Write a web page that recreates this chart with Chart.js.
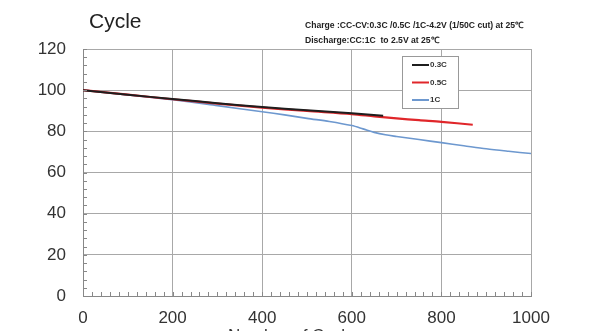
<!DOCTYPE html>
<html>
<head>
<meta charset="utf-8">
<script src="https://cdn.jsdelivr.net/npm/chart.js@4"></script>
<style>
  html, body { margin: 0; padding: 0; background: #fff; }
  #wrap { position: relative; width: 600px; height: 331px; overflow: hidden; }
  #title { position: absolute; left: 89px; top: 9px; font: 21px "Liberation Sans", Arial, sans-serif; color: #222; }
  #cond { position: absolute; left: 305px; top: 18px; font: bold 8.6px "Liberation Sans", Arial, sans-serif; color: #222; line-height: 15px; white-space: nowrap; }
  #xTitle { position: absolute; left: 228px; top: 326px; font: 17px "Liberation Sans", Arial, sans-serif; color: #333; white-space: nowrap; }
</style>
</head>
<body>
<div id="wrap">
  <canvas id="cycleChart" width="600" height="331"></canvas>
  <div id="title">Cycle</div>
  <div id="cond">Charge :CC-CV:0.3C /0.5C /1C-4.2V (1/50C cut) at 25℃<br>Discharge:CC:1C&nbsp; to 2.5V at 25℃</div>
  <div id="xTitle">Number of Cycles</div>
</div>
<script>
// capacity retention (%) vs. cycle count
const cycles03 = [0, 100, 200, 300, 400, 500, 600, 670];
const cap03 = [100, 97.8, 95.7, 93.7, 91.8, 90.2, 88.8, 87.6];

const cycles05 = [0, 100, 200, 300, 400, 500, 600, 650, 700, 750, 800, 870];
const cap05 = [100, 97.8, 95.6, 93.5, 91.5, 89.9, 88.4, 87.3, 86.3, 85.4, 84.6, 83.2];

const cycles1 = [0, 100, 200, 300, 400, 450, 500, 550, 600, 625, 650, 675, 700, 750, 800, 850, 900, 950, 1000];
const cap1 = [100, 97.7, 95.4, 92.5, 89.5, 88, 86.3, 84.8, 82.8, 81.2, 79.5, 78.3, 77.5, 76, 74.5, 73, 71.5, 70.3, 69.2];

const seriesLabels = ['0.3C', '0.5C', '1C'];
const xTicks = [0, 200, 400, 600, 800, 1000];
const yTicks = [0, 20, 40, 60, 80, 100, 120];

function toPoints(xs, ys) {
  return xs.map((x, i) => ({ x: x, y: ys[i] }));
}

const PLOT_LEFT = 83, PLOT_RIGHT = 531, PLOT_TOP = 49, PLOT_BOTTOM = 296;

// small inward ticks along the left and bottom axes
const minorTicks = {
  id: 'minorTicks',
  afterDatasetsDraw(chart) {
    const ctx = chart.ctx;
    const xs = chart.scales.x, ys = chart.scales.y;
    ctx.save();
    ctx.strokeStyle = '#888';
    ctx.lineWidth = 1;
    ctx.beginPath();
    for (let v = 0; v <= 120; v += 4) {
      const py = Math.round(ys.getPixelForValue(v)) + 0.5;
      ctx.moveTo(xs.left, py);
      ctx.lineTo(xs.left + 4, py);
    }
    for (let v = 0; v <= 1000; v += 20) {
      const px = Math.round(xs.getPixelForValue(v)) + 0.5;
      ctx.moveTo(px, ys.bottom);
      ctx.lineTo(px, ys.bottom - 4);
    }
    ctx.stroke();
    ctx.restore();
  }
};

// boxed legend inside the plot area
const boxLegend = {
  id: 'boxLegend',
  afterDatasetsDraw(chart) {
    const ctx = chart.ctx;
    const left = 402, top = 56, w = 56, h = 52;
    ctx.save();
    ctx.fillStyle = '#fff';
    ctx.fillRect(left, top, w, h);
    ctx.strokeStyle = '#999';
    ctx.lineWidth = 1;
    ctx.strokeRect(left + 0.5, top + 0.5, w, h);
    ctx.font = 'bold 8px "Liberation Sans", Arial, sans-serif';
    ctx.textBaseline = 'middle';
    chart.data.datasets.forEach((ds, i) => {
      const y = top + 9 + i * 17.5;
      ctx.strokeStyle = ds.borderColor;
      ctx.lineWidth = 2;
      ctx.beginPath();
      ctx.moveTo(left + 10, y);
      ctx.lineTo(left + 27, y);
      ctx.stroke();
      ctx.fillStyle = '#333';
      ctx.fillText(ds.label, left + 28, y);
    });
    ctx.restore();
  }
};

const ctx = document.getElementById('cycleChart').getContext('2d');
const cycleChart = new Chart(ctx, {
  type: 'line',
  data: {
    datasets: [{
      label: seriesLabels[0],
      data: toPoints(cycles03, cap03),
      borderColor: '#1e1e1e',
      borderWidth: 2,
      order: 0
    }, {
      label: seriesLabels[1],
      data: toPoints(cycles05, cap05),
      borderColor: '#e0262a',
      borderWidth: 2.2,
      order: 1
    }, {
      label: seriesLabels[2],
      data: toPoints(cycles1, cap1),
      borderColor: '#6d98cf',
      borderWidth: 1.6,
      order: 2
    }]
  },
  options: {
    responsive: false,
    animation: false,
    events: [],
    elements: { point: { radius: 0 }, line: { tension: 0.3 } },
    layout: { padding: { top: PLOT_TOP, right: 600 - PLOT_RIGHT, left: 0, bottom: 0 } },
    plugins: { legend: { display: false }, tooltip: { enabled: false } },
    scales: {
      x: {
        type: 'linear',
        min: 0,
        max: 1000,
        afterBuildTicks: (scale) => { scale.ticks = xTicks.map(v => ({ value: v })); },
        afterFit: (scale) => { scale.height = 331 - PLOT_BOTTOM; },
        grid: { color: '#a8a8a8', drawTicks: false },
        border: { color: '#888' },
        ticks: {
          padding: 12, color: '#333',
          font: { family: '"Liberation Sans", Arial, sans-serif', size: 17 },
          callback: (v) => String(v)
        }
      },
      y: {
        min: 0,
        max: 120,
        afterBuildTicks: (scale) => { scale.ticks = yTicks.map(v => ({ value: v })); },
        afterFit: (scale) => { scale.width = PLOT_LEFT; },
        grid: { color: '#a8a8a8', drawTicks: false },
        border: { color: '#888' },
        ticks: { padding: 17, color: '#333', font: { family: '"Liberation Sans", Arial, sans-serif', size: 17 } }
      }
    }
  },
  plugins: [minorTicks, boxLegend]
});
</script>
</body>
</html>
